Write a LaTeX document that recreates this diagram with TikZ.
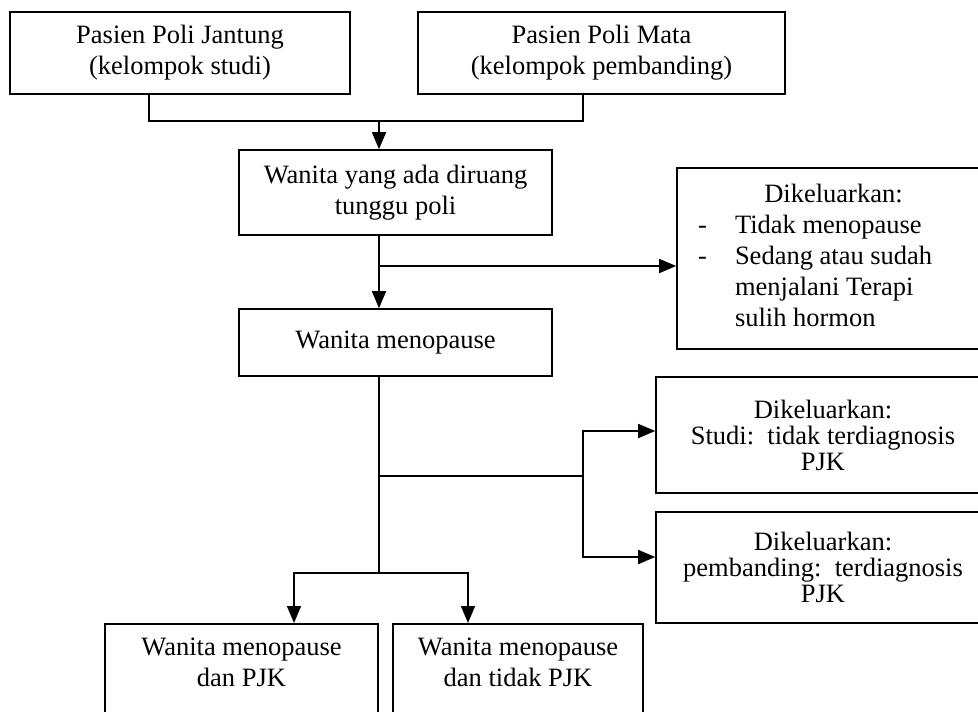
\documentclass[tikz,border=0pt]{standalone}
\usepackage{fontspec}
\setmainfont{Liberation Serif}
\usetikzlibrary{arrows.meta}

\begin{document}
\begin{tikzpicture}
        [x=0.5pt,y=-0.5pt,thick,>={Triangle[length=8.5pt,width=7pt]},
         box/.style={draw,rectangle,align=center,inner sep=2pt,font=\fontsize{13.25}{15.5}\selectfont},
         tight/.style={font=\fontsize{13.25}{13}\selectfont}]
        \useasboundingbox (0,0) rectangle (978,711);
        \clip (0,0) rectangle (978,711);

        \node[box,minimum width=170pt,minimum height=41pt] (jantung) at (180,53) {Pasien Poli Jantung\\(kelompok studi)};
        \node[box,minimum width=183.5pt,minimum height=41pt] (mata) at (601.5,53) {Pasien Poli Mata\\(kelompok pembanding)};
        \node[box,minimum width=156.5pt,minimum height=42.5pt] (ruang) at (395.5,192.5) {Wanita yang ada diruang\\tunggu poli};
        \node[box,minimum width=156.5pt,minimum height=33.5pt] (meno) at (395.5,342.5) {Wanita menopause};
        \node[box,minimum width=156.5pt,minimum height=90.5pt] (keluar1) at (833.5,258.5)
          {\begin{tabular}{@{}p{18.5pt}@{}p{117pt}@{}}
             \multicolumn{2}{@{}c@{}}{Dikeluarkan:}\\
             - & Tidak menopause\\
             - & Sedang atau sudah\\
               & menjalani Terapi\\
               & sulih hormon
           \end{tabular}};
        \node[box,tight,minimum width=167pt,minimum height=58pt] (keluar2) at (823,435) {Dikeluarkan:\\Studi:\ \ tidak terdiagnosis\\PJK};
        \node[box,tight,minimum width=167pt,minimum height=55.5pt] (keluar3) at (823,567.5) {Dikeluarkan:\\pembanding:\ \ terdiagnosis\\PJK};
        \node[box,anchor=north,minimum width=136.5pt,inner ysep=7pt,text depth=60pt] (pjk) at (241.5,623) {Wanita menopause\\dan PJK};
        \node[box,anchor=north,minimum width=125pt,inner ysep=7pt,text depth=60pt] (tidakpjk) at (518,623) {Wanita menopause\\dan tidak PJK};

        \coordinate (join) at (379,121);
        \coordinate (brk) at (583,476);
        \coordinate (split) at (379,573);
        \coordinate (k1in) at ([yshift=-3.75pt]keluar1.west);
        \coordinate (k2in) at ([yshift=2pt]keluar2.west);
        \coordinate (k3in) at ([yshift=5.25pt]keluar3.west);

        \draw ([xshift=-15.5pt]jantung.south) |- (join) -| ([xshift=-9.25pt]mata.south);
        \draw[->] (join) -- (join |- ruang.north);
        \draw[->] (join |- ruang.south) -- (join |- meno.north);
        \draw[->] (join |- k1in) -- (k1in);
        \draw (join |- meno.south) -- (split);
        \draw (join |- brk) -- (brk);
        \foreach \to in {k2in,k3in}
        \draw[->] (brk) |- (\to);
        \draw[->] (split) -| ([xshift=26.25pt]pjk.north);
        \draw[->] (split) -| ([xshift=-25pt]tidakpjk.north);
      \end{tikzpicture}
\end{document}
